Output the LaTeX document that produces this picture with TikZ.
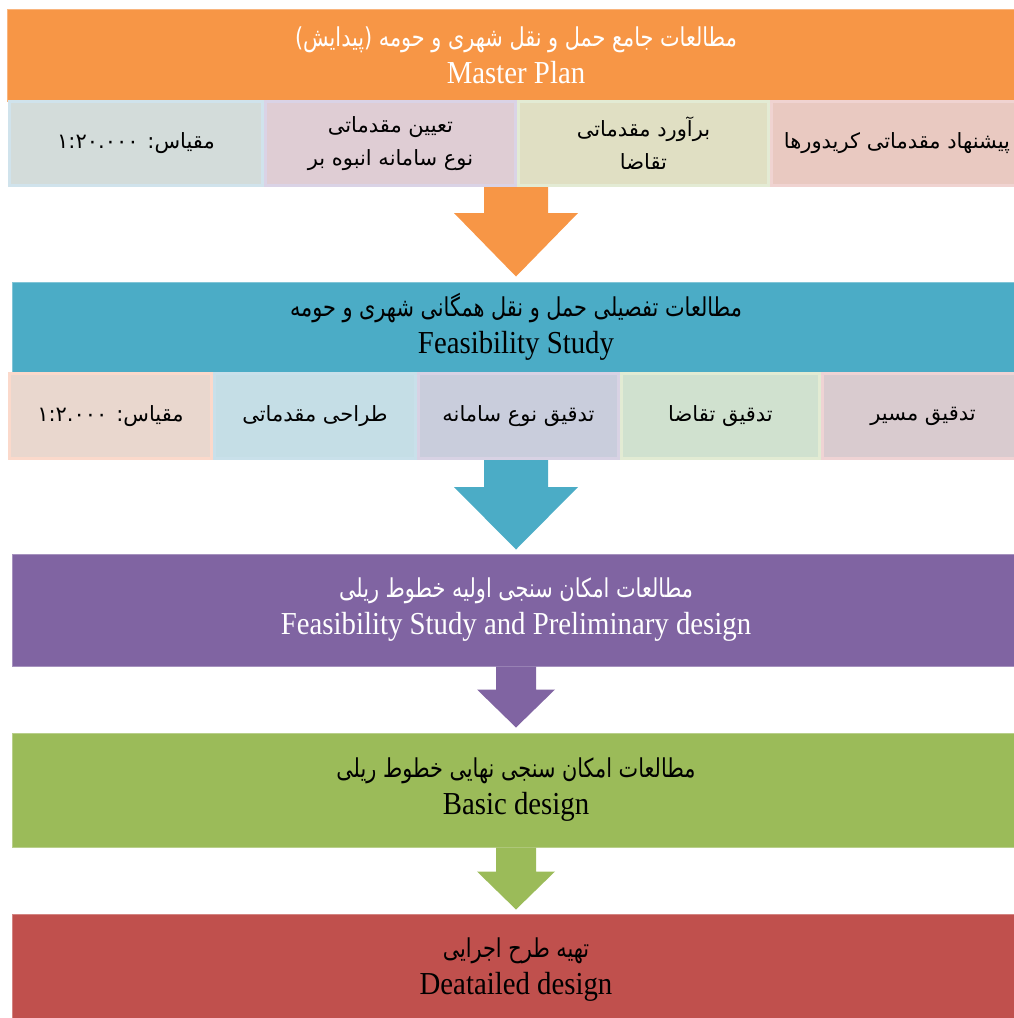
\documentclass[tikz,border=0pt]{standalone}
\usepackage{fontspec}
\setmainfont{Liberation Serif}
\newfontfamily\fa[Script=Arabic]{DejaVu Sans}
\newfontfamily\fahead[Script=Arabic,FakeStretch=0.8]{DejaVu Sans}
\newfontfamily\enhead[FakeStretch=0.9]{Liberation Serif}
\TeXXeTstate=1
\usetikzlibrary{calc}
\definecolor{cOr}{HTML}{F79646}
\definecolor{cTe}{HTML}{4BACC6}
\definecolor{cPu}{HTML}{8064A2}
\definecolor{cGr}{HTML}{9BBB59}
\definecolor{cRe}{HTML}{C0504D}
\definecolor{fA}{HTML}{D3DCDA}\definecolor{bA}{HTML}{D0E3EC}
\definecolor{fB}{HTML}{DFCDD4}\definecolor{bB}{HTML}{DAD3E6}
\definecolor{fC}{HTML}{E0DFC3}\definecolor{bC}{HTML}{E3EBD4}
\definecolor{fD}{HTML}{E9C9C1}\definecolor{bD}{HTML}{F0D3D1}
\definecolor{gA}{HTML}{E9D7CE}\definecolor{kA}{HTML}{FBD9CB}
\definecolor{gB}{HTML}{C5DEE6}\definecolor{kB}{HTML}{C9E0EA}
\definecolor{gC}{HTML}{C9CDDC}\definecolor{kC}{HTML}{D8D2E4}
\definecolor{gD}{HTML}{D0E1CF}\definecolor{kD}{HTML}{E2EBD3}
\definecolor{gE}{HTML}{D9CBCF}\definecolor{kE}{HTML}{EFD3D4}
\newcommand\blockarrow[6]{%
  \fill[#1] ($(#2)+(-#4,0)$) -- ($(#2)+(-#4,#6)$) -- ($(#2)+(-#5,#6)$) -- (#3)
    -- ($(#2)+(#5,#6)$) -- ($(#2)+(#4,#6)$) -- ($(#2)+(#4,0)$) -- cycle;}
\newcommand\fatitle[1]{{\fahead\fontsize{26}{37}\selectfont\beginR #1\endR}}
\begin{document}
\begin{tikzpicture}[x=1pt,y=-1pt,
  hdr/.style={rectangle, inner sep=0pt, align=center, line width=1pt,
    font=\enhead\fontsize{32}{37}\selectfont},
  sub/.style={rectangle, inner sep=0pt, line width=3pt, align=center,
    font=\fa\fontsize{21}{33}\selectfont},
]
\useasboundingbox (0,0) rectangle (1014,1018);
% header boxes
\node[hdr, fill=cOr, draw=cOr!70!white, minimum width=1018, minimum height=92, text=white] (h1) at (516,55)
  {\fatitle{مطالعات جامع حمل و نقل شهری و حومه (پیدایش)}\\Master Plan};
\node[hdr, fill=cTe, draw=cTe!70!white, minimum width=1008, minimum height=90, text=black] (h2) at (516,327)
  {\fatitle{مطالعات تفصیلی حمل و نقل همگانی شهری و حومه}\\Feasibility Study};
\node[hdr, fill=cPu, draw=cPu!70!white, minimum width=1008, minimum height=112, text=white] (h3) at (516,610)
  {\fatitle{مطالعات امکان سنجی اولیه خطوط ریلی}\\Feasibility Study and Preliminary design};
\node[hdr, fill=cGr, draw=cGr!70!white, minimum width=1008, minimum height=114, text=black] (h4) at (516,790)
  {\fatitle{مطالعات امکان سنجی نهایی خطوط ریلی}\\Basic design};
\node[hdr, fill=cRe, draw=cRe!70!white, minimum width=1008, minimum height=112, text=black] (h5) at (516,970)
  {\fatitle{تهیه طرح اجرایی}\\Deatailed design};
% first sub row
\node[sub, fill=fA, draw=bA, minimum width=253, minimum height=84] (r1a) at (136,143.5)
  {\beginR مقیاس: \beginL ۱:۲۰.۰۰۰\endL\endR};
\node[sub, fill=fB, draw=bB, minimum width=250, minimum height=84] (r1b) at (390.5,143.5)
  {\beginR تعیین مقدماتی\endR\\\beginR نوع سامانه انبوه بر\endR};
\node[sub, fill=fC, draw=bC, minimum width=250, minimum height=84] (r1c) at (643.5,143.5)
  {\beginR برآورد مقدماتی\endR\\\beginR تقاضا\endR};
\node[sub, fill=fD, draw=bD, minimum width=251, minimum height=84] (r1d) at (897,143.5)
  {\beginR پیشنهاد مقدماتی کریدورها\endR};
% second sub row
\node[sub, fill=gA, draw=kA, minimum width=202, minimum height=85] (r2a) at (110.5,416)
  {\beginR مقیاس: \beginL ۱:۲.۰۰۰\endL\endR};
\node[sub, fill=gB, draw=kB, minimum width=201, minimum height=85] (r2b) at (315,416)
  {\beginR طراحی مقدماتی\endR};
\node[sub, fill=gC, draw=kC, minimum width=200, minimum height=85] (r2c) at (518.5,416)
  {\beginR تدقیق نوع سامانه\endR};
\node[sub, fill=gD, draw=kD, minimum width=198, minimum height=85] (r2d) at (720.5,416)
  {\beginR تدقیق تقاضا\endR};
\node[sub, fill=gE, draw=kE, minimum width=201, minimum height=85] (r2e) at (923,416)
  {\beginR تدقیق مسیر\endR};
% arrows
\coordinate (a1s) at (h1.center |- r1a.south);
\coordinate (a1t) at ($(h1.center |- h2.north)+(0,-5)$);
\coordinate (a2s) at (h2.center |- r2a.south);
\coordinate (a2t) at ($(h2.center |- h3.north)+(0,-4)$);
\coordinate (a3s) at (h3.south);
\coordinate (a3t) at ($(h4.north)+(0,-5)$);
\coordinate (a4s) at (h4.south);
\coordinate (a4t) at ($(h5.north)+(0,-4)$);
\blockarrow{cOr}{a1s}{a1t}{32}{62}{26}
\blockarrow{cTe}{a2s}{a2t}{32}{62}{27}
\blockarrow{cPu}{a3s}{a3t}{20}{39}{23}
\blockarrow{cGr}{a4s}{a4t}{20}{39}{24}
\end{tikzpicture}
\end{document}
